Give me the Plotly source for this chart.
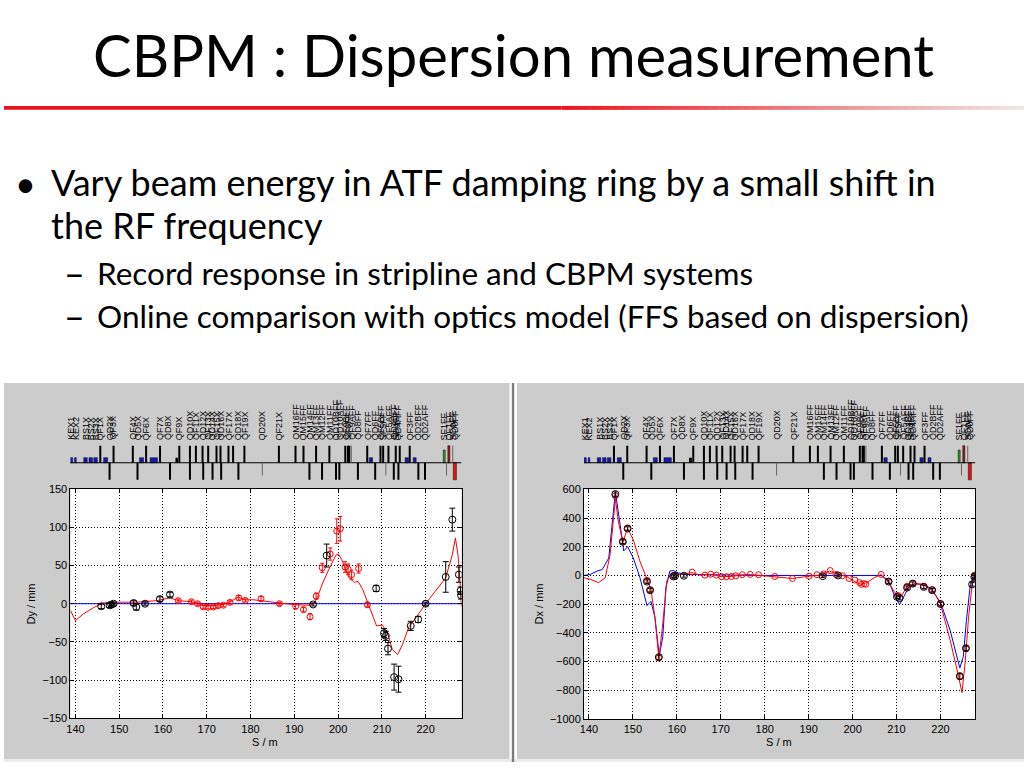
import plotly.graph_objects as go

W, H = 1024, 768

# ---------------- data ----------------
x_ticks = [140, 150, 160, 170, 180, 190, 200, 210, 220]
dy_ticks = [-150, -100, -50, 0, 50, 100, 150]
dx_ticks = [-1000, -800, -600, -400, -200, 0, 200, 400, 600]

# Left panel: vertical dispersion Dy (mm)
dy_design_s = [138.86, 228.2]
dy_design = [0, 0]

dy_fit_s = [138.86, 140.0, 141.9, 144.2, 146.4, 148.7, 154.0, 158.6, 161.6, 163.5, 166.5, 169.2,
            171.5, 173.8, 175.3, 177.2, 178.7, 180.6, 186.6, 190.3, 193.4, 194.5, 195.3, 196.4,
            197.9, 199.5, 200.1, 200.8, 201.6, 202.5, 203.7, 204.6, 205.6, 206.7, 207.9, 208.8,
            210.1, 211.3, 212.4, 213.6, 214.7, 216.2, 217.4, 220.0, 224.6, 226.1, 226.8, 227.4,
            227.8, 228.2]
dy_fit = [-8.6, -22, -13, -5, 1, 2, 2, 4, 7.7, 4, 2.6, -2,
          -2.6, -1, 2.6, 8.6, 5, 5.2, 0.9, -1.3, -2, 0, 8.6, 25.8,
          45, 63.5, 65, 58, 47, 34, 28, 29, 19, 2, -17, -29,
          -28, -38, -60, -66.5, -53.6, -30, -21.5, 0, 34, 64, 86, 64,
          34, -4]

dy_meas_s = [163.5, 166.5, 167.9, 169.2, 170.3, 171.5, 172.6, 173.8, 175.3, 177.3, 178.8, 182.4,
             186.6, 190.3, 192.1, 193.6, 195.0, 196.4, 198.2, 199.7, 200.5, 201.6, 202.3, 203.1,
             204.7, 206.7]
dy_meas = [4, 2.6, 0, -4, -4.7, -4.3, -2.6, -2, 1.7, 7.7, 4.3, 6.5,
           0, -3.4, -7.7, -17, 9.9, 47, 65, 95, 98, 48, 45, 38,
           46, -1.3]
dy_meas_err = [2, 2, 2, 2, 2, 2, 2, 2, 2, 3, 2, 3,
               2, 3, 3, 4, 4, 6, 8, 16, 16, 7, 7, 6,
               6, 3]

dy_cbpm_s = [145.9, 147.8, 148.2, 148.7, 153.3, 153.9, 155.9, 159.3, 161.6, 194.3, 197.4, 208.7,
             210.5, 210.9, 211.4, 212.8, 213.8, 216.6, 218.3, 220.0, 224.6, 226.1, 227.6, 228.0,
             228.1]
dy_cbpm = [-3.4, -2, -1.3, 0, 0.9, -4.3, 0, 6, 12, -1, 63, 20,
           -38.6, -42, -58.8, -96, -98.7, -29, -20.6, 0, 35, 110, 38, 17,
           11]
dy_cbpm_err = [3, 3, 2, 2, 3, 4, 2, 3, 3, 2, 15, 4,
               6, 6, 8, 17, 17, 6, 4, 2, 20, 15, 10, 5,
               5]

# Right panel: horizontal dispersion Dx (mm)
dx_design_s = [138.87, 140.3, 141.8, 143.0, 144.5, 145.6, 146.0, 147.0, 147.9, 148.8, 150.1, 151.6,
               153.2, 154.1, 155.0, 156.0, 156.8, 157.5, 158.4, 159.2, 160.3, 162.2, 170.0, 180.0,
               190.0, 200.0, 206.5, 208.2, 209.7, 210.7, 211.6, 212.8, 214.3, 216.2, 218.1, 220.0,
               222.2, 224.4, 225.2, 225.9, 226.8, 227.9]
dx_design = [0, 7, 30, 41, 121, 441, 583, 373, 171, 201, 121, -16,
             -210, -181, -290, -560, -427, -85, 30, 34, 18, 7, 2, 0,
             0, 0, 0, -39, -153, -203, -153, -80, -57, -66, -103, -187,
             -382, -645, -565, -313, -62, 7]

dx_fit_s = [138.87, 140.3, 142.2, 143.7, 144.8, 145.6, 146.0, 146.7, 147.7, 148.8, 150.1, 151.6,
            153.2, 154.1, 155.0, 155.9, 156.8, 157.7, 158.8, 160.7, 163.5, 165.2, 167.7, 170.2,
            172.4, 174.9, 176.7, 179.2, 182.2, 186.3, 190.1, 192.3, 194.7, 196.9, 198.8, 200.3,
            201.8, 203.3, 204.9, 206.5, 208.2, 210.1, 211.3, 212.4, 214.3, 216.2, 218.1, 220.0,
            222.2, 224.1, 224.9, 225.6, 226.4, 227.3, 227.9]
dx_fit = [-16, -27, -50, -16, 144, 395, 533, 373, 235, 327, 247, 98,
          -27, -96, -290, -576, -336, -39, 11, 7, 20, 2, 8, -8,
          -7, 4, 6, 0, -7, -21, -5, 2, 30, 7, -11, -39,
          -62, -50, -16, 7, -50, -142, -135, -73, -57, -62, -96, -199,
          -450, -702, -816, -610, -290, -39, 11]

dx_meas_s = [146.0, 147.7, 148.8, 153.2, 153.9, 155.9, 159.2, 163.5, 166.4, 167.7, 169.0, 170.2,
             171.3, 172.4, 173.4, 174.9, 176.7, 178.6, 182.3, 186.3, 190.1, 191.9, 193.4, 194.9,
             196.2, 197.7, 199.2, 200.5, 201.6, 202.0, 202.6, 203.0, 206.5, 208.2, 210.3, 212.4,
             213.7, 216.2, 218.1, 220.0, 224.4, 225.8, 227.7]
dx_meas = [555, 235, 327, -35, -100, -575, 0, 23, 2, 9, 2, -9,
           -9, -7, -2, 5, 7, 5, -7, -21, -5, 5, 11, 34,
           7, -2, -21, -32, -50, -62, -57, -62, 7, -40, -139, -75,
           -57, -75, -100, -199, -705, -510, 2]

dx_cbpm_s = [146.0, 147.7, 148.8, 153.2, 153.9, 155.9, 159.2, 159.6, 161.6, 193.2, 196.7, 208.2,
             210.1, 210.7, 212.4, 213.7, 216.2, 218.1, 220.0, 224.4, 225.8, 227.2, 227.7, 227.9]
dx_cbpm = [567, 235, 327, -43, -103, -569, -7, -2, -2, -5, 0, -43,
           -149, -158, -85, -57, -80, -103, -199, -702, -507, -62, -11, -5]
dx_cbpm_err = [15, 12, 12, 12, 12, 15, 10, 10, 10, 10, 10, 12,
               12, 12, 12, 12, 12, 12, 12, 20, 15, 12, 10, 10]

# Beamline lattice (S positions in m)
beamline_s = [138.6, 228.2]
quad_f_s = [145.68, 148.71, 153.11, 156.15, 159.33, 163.73, 166.16, 167.52, 169.04, 170.33,
            172.23, 173.14, 174.96, 176.02, 178.60, 186.48, 190.28, 192.10, 194.98, 198.01,
            201.65, 202.26, 202.56, 206.66, 209.69, 210.30, 211.51, 213.18, 214.09, 216.37]
quad_d_s = [147.80, 154.18, 161.61, 166.16, 169.19, 171.32, 173.29, 177.23, 193.46, 196.34,
            199.53, 200.29, 204.53, 208.48, 212.73, 213.79, 218.34, 219.86]
weak_up_s = [203.02, 226.2]
weak_down_s = [182.69, 210.91, 224.78]
bend_s = [139.0, 140.0, 142.3, 143.5, 144.6, 146.9, 155.1, 157.9, 207.5, 215.7, 217.5]
bend_w = [0.76, 0.38, 0.8, 0.8, 0.8, 0.9, 0.9, 1.67, 0.76, 0.76, 0.68]
kicker_s = [163.2]
sf_s = [224.25]
sd_up_s = [225.31]
sd_down_s = [226.68]

label_names = ["KEX1", "KEX2", "BS1X", "BS2X", "BS3X", "QF1X", "QD2X", "QF3X",
               "QF4X", "QD5X", "QF6X", "QF7X", "QD8X", "QF9X",
               "QD10X", "QF11X", "QD12X", "QF13X", "QD14X", "QF15X", "QD16X", "QF17X", "QD18X", "QF19X",
               "QD20X", "QF21X",
               "QM16FF", "QM15FF", "QM14FF", "QM13FF", "QM12FF", "QM11FF", "QD10BFF", "QD10AFF",
               "QF9BFF", "SF6FF", "QF9AFF", "QD8FF", "QF7FF", "QD6FF", "QF5BFF", "SF5FF", "QF5AFF",
               "QD4BFF", "SD4FF", "QD4AFF", "QF3FF", "QD2BFF", "QD2AFF",
               "SF1FF", "QF1FF", "SD0FF", "QD0FF"]
label_s = [139.0, 140.0, 142.3, 143.5, 144.6, 145.7, 147.8, 148.7,
           153.1, 154.2, 156.2, 159.3, 161.0, 163.7,
           166.2, 167.5, 169.2, 170.3, 171.3, 172.2, 173.3, 175.0, 177.2, 178.6,
           182.7, 186.5,
           190.3, 192.1, 193.5, 195.0, 196.3, 198.0, 199.5, 200.3,
           201.7, 202.3, 203.0, 204.5, 206.7, 208.5, 209.7, 210.3, 211.5,
           212.7, 213.2, 213.8, 216.4, 218.3, 219.9,
           224.3, 225.3, 226.2, 226.7]

# Slide text
title_text = "CBPM : Dispersion measurement"
bullet_lines = ["Vary beam energy in ATF damping ring by a small shift in", "the RF frequency"]
sub_bullets = ["Record response in stripline and CBPM systems",
               "Online comparison with optics model (FFS based on dispersion)"]

# ---------------- helpers ----------------
def px_x(p):
    return p / W

def px_y(p):
    return 1 - p / H

def segs(xs, y0, y1):
    X, Y = [], []
    for s in xs:
        X += [s, s, None]
        Y += [y0, y1, None]
    return X, Y

fig = go.Figure()

PLOT_FONT = "Liberation Sans, Arial, sans-serif"
SLIDE_FONT = "Lato, Open Sans, sans-serif"

# ---------------- data traces ----------------
fig.add_trace(go.Scatter(x=dy_design_s, y=dy_design, mode="lines",
                         line=dict(color="#0000ff", width=1), xaxis="x", yaxis="y"))
fig.add_trace(go.Scatter(x=dy_fit_s, y=dy_fit, mode="lines",
                         line=dict(color="#ff0000", width=1), xaxis="x", yaxis="y"))
fig.add_trace(go.Scatter(x=dy_meas_s, y=dy_meas, mode="markers",
                         marker=dict(symbol="circle-open", size=6, color="#ff0000", line=dict(width=1)),
                         error_y=dict(type="data", array=dy_meas_err, color="#ff0000", thickness=1, width=2),
                         xaxis="x", yaxis="y"))
fig.add_trace(go.Scatter(x=dy_cbpm_s, y=dy_cbpm, mode="markers",
                         marker=dict(symbol="circle-open", size=7, color="#000000", line=dict(width=1)),
                         error_y=dict(type="data", array=dy_cbpm_err, color="#000000", thickness=1, width=3),
                         xaxis="x", yaxis="y"))

fig.add_trace(go.Scatter(x=dx_design_s, y=dx_design, mode="lines",
                         line=dict(color="#0000ff", width=1), xaxis="x2", yaxis="y2"))
fig.add_trace(go.Scatter(x=dx_fit_s, y=dx_fit, mode="lines",
                         line=dict(color="#ff0000", width=1), xaxis="x2", yaxis="y2"))
fig.add_trace(go.Scatter(x=dx_meas_s, y=dx_meas, mode="markers",
                         marker=dict(symbol="circle-open", size=6, color="#ff0000", line=dict(width=1)),
                         xaxis="x2", yaxis="y2"))
fig.add_trace(go.Scatter(x=dx_cbpm_s, y=dx_cbpm, mode="markers",
                         marker=dict(symbol="circle-open", size=7, color="#000000", line=dict(width=1)),
                         error_y=dict(type="data", array=dx_cbpm_err, color="#000000", thickness=1, width=2),
                         xaxis="x2", yaxis="y2"))

# ---------------- lattice traces ----------------
for xa, ya in (("x3", "y3"), ("x4", "y4")):
    fig.add_trace(go.Scatter(x=beamline_s, y=[0, 0], mode="lines",
                             line=dict(color="#000000", width=1), xaxis=xa, yaxis=ya))
    X, Y = segs(quad_f_s, 0, 1)
    fig.add_trace(go.Scatter(x=X, y=Y, mode="lines", line=dict(color="#000000", width=2),
                             xaxis=xa, yaxis=ya))
    X, Y = segs(quad_d_s, 0, -1)
    fig.add_trace(go.Scatter(x=X, y=Y, mode="lines", line=dict(color="#000000", width=2),
                             xaxis=xa, yaxis=ya))
    X, Y = segs(weak_up_s, 0, 1)
    fig.add_trace(go.Scatter(x=X, y=Y, mode="lines", line=dict(color="#666666", width=1),
                             xaxis=xa, yaxis=ya))
    X, Y = segs(weak_down_s, 0, -0.75)
    fig.add_trace(go.Scatter(x=X, y=Y, mode="lines", line=dict(color="#666666", width=1),
                             xaxis=xa, yaxis=ya))
    fig.add_trace(go.Bar(x=bend_s, y=[0.3] * len(bend_s), base=0, width=bend_w,
                         marker=dict(color="#1a1aa0", line=dict(color="#000040", width=0.5)),
                         xaxis=xa, yaxis=ya))
    fig.add_trace(go.Bar(x=kicker_s, y=[0.3], base=0, width=[0.45],
                         marker=dict(color="#000000", line=dict(width=0)), xaxis=xa, yaxis=ya))
    fig.add_trace(go.Bar(x=sf_s, y=[0.75], base=0, width=[0.45],
                         marker=dict(color="#2e9a2e", line=dict(color="#000000", width=0.5)),
                         xaxis=xa, yaxis=ya))
    fig.add_trace(go.Bar(x=sd_up_s, y=[1.0], base=0, width=[0.45],
                         marker=dict(color="#b01010", line=dict(color="#000000", width=0.5)),
                         xaxis=xa, yaxis=ya))
    fig.add_trace(go.Bar(x=sd_down_s, y=[-1.0], base=0, width=[0.7],
                         marker=dict(color="#ee1010", line=dict(color="#000000", width=0.5)),
                         xaxis=xa, yaxis=ya))

# ---------------- shapes ----------------
shapes = []
shapes.append(dict(type="rect", xref="paper", yref="paper", layer="below",
                   x0=px_x(0), x1=px_x(507.5), y0=px_y(765), y1=px_y(383),
                   fillcolor="#cccccc", line=dict(width=0)))
shapes.append(dict(type="rect", xref="paper", yref="paper", layer="below",
                   x0=px_x(515), x1=px_x(1024), y0=px_y(765), y1=px_y(383),
                   fillcolor="#cccccc", line=dict(width=0)))
shapes.append(dict(type="rect", xref="paper", yref="paper", layer="below",
                   x0=px_x(0), x1=px_x(1024), y0=px_y(768), y1=px_y(765),
                   fillcolor="#ececec", line=dict(width=0)))
shapes.append(dict(type="rect", xref="paper", yref="paper", layer="below",
                   x0=px_x(509.8), x1=px_x(512.2), y0=px_y(768), y1=px_y(383),
                   fillcolor="#7a7a7a", line=dict(width=0)))
for xr, yr in (("x domain", "y domain"), ("x2 domain", "y2 domain")):
    shapes.append(dict(type="rect", xref=xr, yref=yr, layer="below",
                       x0=0, x1=1, y0=0, y1=1, fillcolor="#ffffff", line=dict(width=0)))

# title underline gradient
N = 60
x_solid = 560
shapes.append(dict(type="rect", xref="paper", yref="paper", layer="below",
                   x0=0, x1=px_x(x_solid), y0=px_y(105.5), y1=px_y(101.5),
                   fillcolor="rgb(236,20,28)", line=dict(width=0)))
for i in range(N):
    a = x_solid + (W - x_solid) * i / N
    b = x_solid + (W - x_solid) * (i + 1) / N
    t = (i + 0.5) / N
    r = int(236 + (238 - 236) * t)
    g = int(20 + (232 - 20) * t)
    bb = int(28 + (232 - 28) * t)
    shapes.append(dict(type="rect", xref="paper", yref="paper", layer="below",
                       x0=px_x(a), x1=px_x(b) + 0.001, y0=px_y(105.5), y1=px_y(101.5),
                       fillcolor=f"rgb({r},{g},{bb})", line=dict(width=0)))

# ---------------- annotations ----------------
ann = []
ann.append(dict(text=title_text, x=px_x(511.5), y=px_y(49), xref="paper", yref="paper",
                xanchor="center", yanchor="middle", showarrow=False, borderpad=0,
                font=dict(family=SLIDE_FONT, size=58, color="#000000")))
ann.append(dict(text="\u2022", x=px_x(10), y=px_y(180), xref="paper", yref="paper",
                xanchor="left", yanchor="middle", showarrow=False, borderpad=0,
                font=dict(family=SLIDE_FONT, size=36, color="#000000")))
for txt, yb in zip(bullet_lines, [193.3, 236.7]):
    ann.append(dict(text=txt, x=px_x(46), y=px_y(yb - 14.0), xref="paper", yref="paper",
                    xanchor="left", yanchor="middle", showarrow=False, borderpad=0,
                    font=dict(family=SLIDE_FONT, size=36, color="#000000")))
for txt, yb in zip(sub_bullets, [283.3, 326.7]):
    ann.append(dict(text="\u2013", x=px_x(59), y=px_y(yb - 12.2), xref="paper", yref="paper",
                    xanchor="left", yanchor="middle", showarrow=False, borderpad=0,
                    font=dict(family=SLIDE_FONT, size=36, color="#000000")))
    ann.append(dict(text=txt, x=px_x(92), y=px_y(yb - 12.2), xref="paper", yref="paper",
                    xanchor="left", yanchor="middle", showarrow=False, borderpad=0,
                    font=dict(family=SLIDE_FONT, size=31.5, color="#000000")))

for txt, xc, yc, ang in (("Dy / mm", 27, 607, -90), ("S / m", 262, 748, 0),
                         ("Dx / mm", 537, 607, -90), ("S / m", 778, 748, 0)):
    ann.append(dict(text=txt, x=px_x(xc), y=px_y(yc), xref="paper", yref="paper",
                    xanchor="center", yanchor="middle", textangle=ang, showarrow=False,
                    font=dict(family=PLOT_FONT, size=11, color="#000000")))

for xa in ("x3", "x4"):
    for nm, s in zip(label_names, label_s):
        ann.append(dict(text=nm, x=s, y=px_y(442), xref=xa, yref="paper",
                        xanchor="center", yanchor="bottom", textangle=-90, showarrow=False,
                        borderpad=0,
                        font=dict(family=PLOT_FONT, size=9, color="#000000")))

# ---------------- axes ----------------
def main_x(domain, rng):
    return dict(domain=domain, range=rng, tickvals=x_ticks, showgrid=True, gridcolor="#000000",
                griddash="1px,2px", gridwidth=1, showline=True, linecolor="#000000", linewidth=1,
                mirror="ticks", ticks="inside", ticklen=4, tickcolor="#000000", zeroline=False,
                tickfont=dict(family=PLOT_FONT, size=11, color="#000000"), fixedrange=True)

def main_y(domain, rng, ticks):
    return dict(domain=domain, range=rng, tickvals=ticks, showgrid=True, gridcolor="#000000",
                griddash="1px,2px", gridwidth=1, showline=True, linecolor="#000000", linewidth=1,
                mirror="ticks", ticks="inside", ticklen=4, tickcolor="#000000", zeroline=False,
                tickfont=dict(family=PLOT_FONT, size=11, color="#000000"), fixedrange=True)

left_xd = [66.7 / W, 459.3 / W]
right_xd = [582.3 / W, 975 / W]
lat_yd = [1 - 484.8 / H, 1 - 443.2 / H]

fig.update_layout(
    width=W, height=H,
    margin=dict(l=0, r=0, t=0, b=0),
    paper_bgcolor="#ffffff",
    plot_bgcolor="rgba(0,0,0,0)",
    showlegend=False,
    barmode="overlay",
    xaxis=dict(main_x(left_xd, [138.86, 228.2]), anchor="y"),
    yaxis=dict(main_y([1 - 723.7 / H, 1 - 490.7 / H], [-150, 150], dy_ticks), anchor="x"),
    xaxis2=dict(main_x(right_xd, [138.87, 227.9]), anchor="y2"),
    yaxis2=dict(main_y([1 - 724.3 / H, 1 - 491 / H], [-1000, 600], dx_ticks), anchor="x2"),
    xaxis3=dict(domain=left_xd, range=[138.86, 228.2], visible=False, anchor="y3", fixedrange=True),
    yaxis3=dict(domain=lat_yd, range=[-1.2, 1.2], visible=False, anchor="x3", fixedrange=True),
    xaxis4=dict(domain=right_xd, range=[138.87, 227.9], visible=False, anchor="y4", fixedrange=True),
    yaxis4=dict(domain=lat_yd, range=[-1.2, 1.2], visible=False, anchor="x4", fixedrange=True),
    shapes=shapes,
    annotations=ann,
)

fig.write_html("out.html", config={"displayModeBar": False},
               post_script="document.body.style.margin='0px';document.body.style.overflow='hidden';")
